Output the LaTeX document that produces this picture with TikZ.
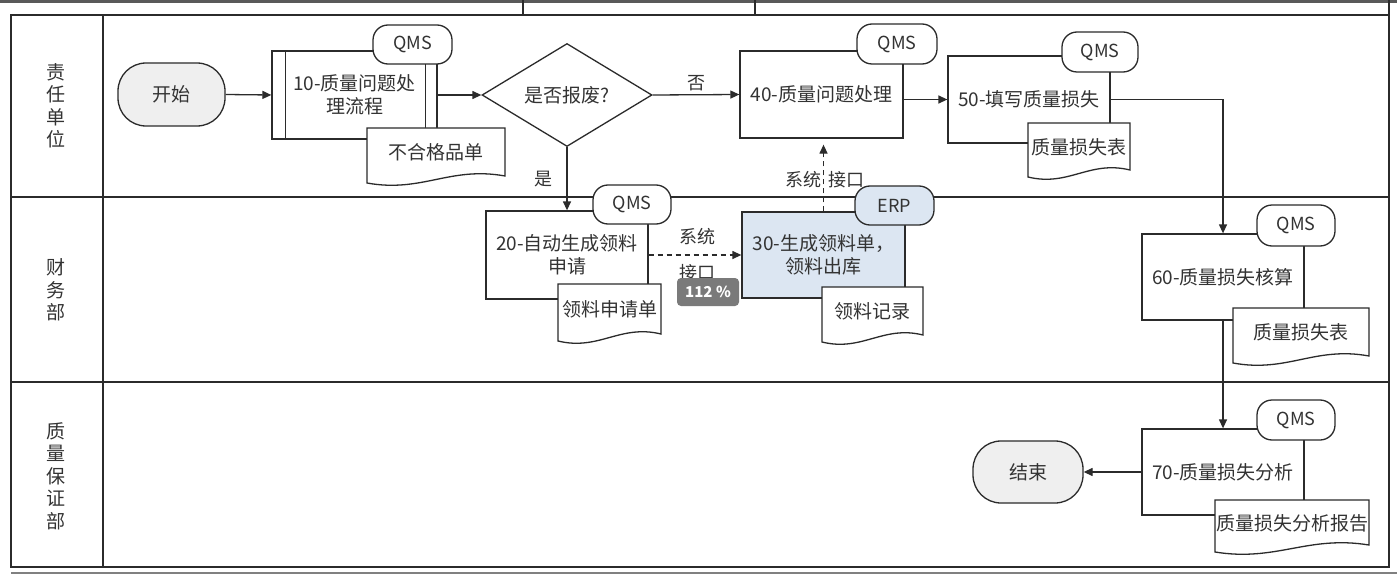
\documentclass[tikz,border=0pt]{standalone}
\usepackage{fontspec}
\setmainfont{Noto Sans CJK SC}
\usetikzlibrary{arrows.meta,shapes.geometric,calc}
\definecolor{ink}{HTML}{2B2B2B}
\definecolor{txt}{HTML}{333333}
\definecolor{termfill}{HTML}{EFEFEF}
\definecolor{erpfill}{HTML}{DCE6F2}
\definecolor{badge}{HTML}{7A7A7A}
\tikzset{
  lane/.style={draw=ink, line width=2pt},
  shapeline/.style={draw=ink, line width=1.3pt},
  txtfont/.style={text=txt, font=\fontsize{19}{23}\selectfont, align=center},
  procbox/.style={shapeline, fill=white, rectangle, txtfont, inner sep=1pt},
  termbox/.style={shapeline, fill=termfill, rectangle, rounded corners=28pt, txtfont, inner sep=1pt},
  tagbox/.style={shapeline, rectangle, rounded corners=15pt, text=txt, font=\fontsize{18}{20}\selectfont, inner sep=0pt},
  decbox/.style={shapeline, fill=white, diamond, aspect=1.65, txtfont, inner sep=0pt, minimum width=170pt, minimum height=103pt},
  lanelabel/.style={text=txt, font=\fontsize{19}{22.5}\selectfont, align=center, inner sep=0pt},
  edgelabel/.style={text=txt, font=\fontsize{18}{20}\selectfont, inner sep=0pt},
  arr/.style={draw=ink, line width=1.3pt, -{Triangle[length=9pt,width=8pt]}},
  darr/.style={arr, dashed, dash pattern=on 5pt off 4pt},
}
% name, x1, y1, x2, y2, style, text
\newcommand\mkbox[7]{\node[#6, minimum width={(#4-#2)*1pt}, minimum height={(#5-#3)*1pt}] (#1) at ({(#2+#4)/2},{(#3+#5)/2}) {#7};}
% name, x1, y1, x2, y2, text
\newcommand\mkdoc[6]{%
  \draw[shapeline, fill=white] (#2,#3) -- (#4,#3) -- (#4,{#5-7})
    .. controls ({#2+0.6*(#4-#2)},{#5-17}) and ({#2+0.4*(#4-#2)},{#5+10}) .. (#2,#5) -- cycle;
  \node[txtfont, inner sep=0pt] (#1) at ({(#2+#4)/2},{(#3+#5)/2-3}) {#6};}
\begin{document}
\begin{tikzpicture}[x=1pt,y=-1pt]
\useasboundingbox (0,0) rectangle (1397,575);
\fill[white] (0,0) rectangle (1397,575);
% residue of the screenshot
\fill[black!65] (0,0) rectangle (1397,3);
\draw[lane, line width=1.5pt] (523,0) -- (523,15);
\draw[lane, line width=1.5pt] (755,0) -- (755,15);
\draw[lane] (1389,0) -- (1389,15);
\draw[black!50, line width=1.5pt] (11,573) -- (1397,573);
% lanes
\draw[lane] (11,15) rectangle (1389,567);
\draw[lane] (103,15) -- (103,567);
\draw[lane] (11,197) -- (1389,197);
\draw[lane] (11,382) -- (1389,382);
\node[lanelabel] (l1) at (56,106) {责\\任\\单\\位};
\node[lanelabel] (l2) at (56,290) {财\\务\\部};
\node[lanelabel] (l3) at (56,476) {质\\量\\保\\证\\部};
% lane 1
\mkbox{start}{118}{63}{225}{126}{termbox}{开始}
\mkbox{p10}{272}{51}{437}{139}{procbox}{10-质量问题处\\理流程}
\draw[shapeline] ([xshift=14pt]p10.north west) -- ([xshift=14pt]p10.south west);
\draw[shapeline] ([xshift=-12pt]p10.north east) -- ([xshift=-12pt]p10.south east);
\mkbox{t10}{373}{25}{452}{64}{tagbox, fill=white}{QMS}
\mkdoc{d10}{367}{128}{505}{183}{不合格品单}
\node[decbox] (dec) at (567,95) {是否报废?};
\mkbox{p40}{740}{51}{903}{138}{procbox}{40-质量问题处理}
\mkbox{t40}{857}{24}{937}{64}{tagbox, fill=white}{QMS}
\mkbox{p50}{948}{56}{1110}{143}{procbox}{50-填写质量损失}
\mkbox{t50}{1062}{32}{1138}{72}{tagbox, fill=white}{QMS}
\mkdoc{d50}{1028}{123}{1130}{177}{质量损失表}
% lane 2
\mkbox{p20}{486}{211}{648}{299}{procbox}{20-自动生成领料\\申请}
\mkbox{t20}{593}{185}{671}{224}{tagbox, fill=white}{QMS}
\mkdoc{d20}{558}{284}{661}{341}{领料申请单}
\mkbox{p30}{742}{212}{905}{298}{procbox, fill=erpfill}{30-生成领料单，\\领料出库}
\mkbox{t30}{855}{186}{934}{225}{tagbox, fill=erpfill}{ERP}
\mkdoc{d30}{822}{287}{923}{342}{领料记录}
\mkbox{p60}{1142}{234}{1304}{320}{procbox}{60-质量损失核算}
\mkbox{t60}{1257}{205}{1335}{246}{tagbox, fill=white}{QMS}
\mkdoc{d60}{1233}{308}{1369}{363}{质量损失表}
% lane 3
\mkbox{p70}{1142}{429}{1304}{515}{procbox}{70-质量损失分析}
\mkbox{t70}{1257}{400}{1335}{440}{tagbox, fill=white}{QMS}
\mkdoc{d70}{1215}{500}{1369}{552}{质量损失分析报告}
\mkbox{stop}{973}{441}{1083}{503}{termbox}{结束}
% connectors
\draw[arr] (start.east) -- (p10.west);
\draw[arr] (p10.east) -- (dec.west);
\draw[arr] (dec.east) -- node[edgelabel, above=3pt] (no) {否} (p40.west);
\draw[arr] (dec.south) -- (p20.north);
\node[edgelabel] (yes) at (543,179) {是};
\draw[arr] (p40.east |- p50.west) -- (p50.west);
\draw[darr] (p20.east) -- (p30.west);
\node[edgelabel] (sys1) at (697,237) {系统};
\node[edgelabel] (if1) at (697,273) {接口};
\draw[darr, shorten >=6pt] (p30.north) -- (p30.north |- p40.south);
\node[edgelabel] (sys2) at (803,180) {系统};
\node[edgelabel] (if2) at (846,180) {接口};
\draw[arr] (p50.east) -| (p60.north);
\draw[arr] (p60.south) -- (p70.north);
\draw[arr] (p70.west) -- (stop.east);
% zoom badge of the screenshot
\node[fill=badge, rounded corners=4pt, text=white, font=\bfseries\fontsize{15}{16}\selectfont, minimum width=62pt, minimum height=28pt, inner sep=0pt] (zoom) at (708,292) {112 \%};
\end{tikzpicture}
\end{document}
